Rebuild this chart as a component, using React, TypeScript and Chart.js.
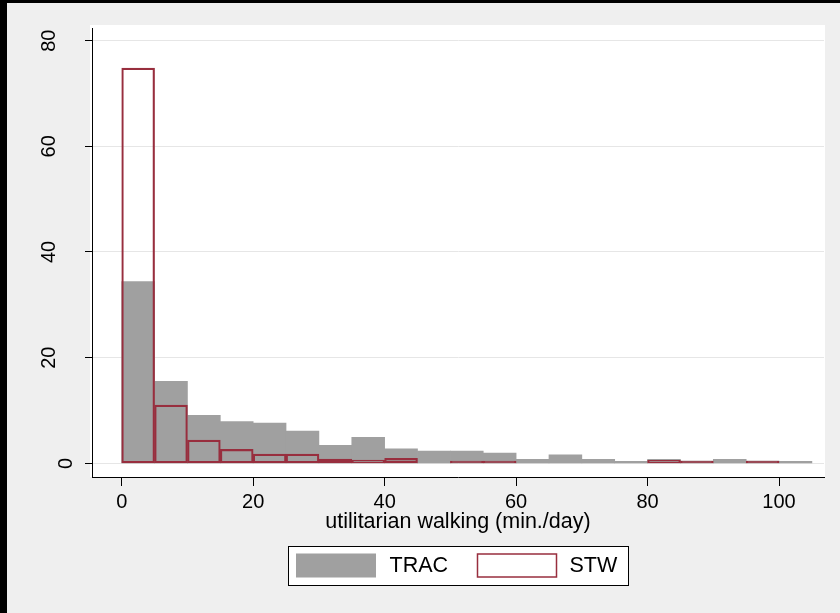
import React, { useEffect, useRef } from "react";
import { Chart, registerables } from "chart.js";

Chart.register(...registerables);

// ---- data ----
const binStarts = [0, 5, 10, 15, 20, 25, 30, 35, 40, 45, 50, 55, 60, 65, 70, 75, 80, 85, 90, 95, 100];
const binWidth = 5;
const tracValues = [34.4, 15.5, 9.1, 7.9, 7.6, 6.1, 3.4, 4.9, 2.75, 2.3, 2.3, 1.95, 0.75, 1.6, 0.75, 0.38, 0.75, 0.4, 0.75, 0.4, 0.38];
const stwValues = [74.8, 11.0, 4.4, 2.65, 1.75, 1.75, 0.8, 0.62, 0.95, 0, 0.4, 0.4, 0, 0, 0, 0, 0.55, 0.4, 0, 0.4, 0];
const seriesLabels = ["TRAC", "STW"];
const xTicks = [0, 20, 40, 60, 80, 100];
const yTicks = [0, 20, 40, 60, 80];
const xTitle = "utilitarian walking (min./day)";

const FONT = '"Liberation Sans", Arial, Helvetica, sans-serif';
const TRAC_COLOR = "#a0a0a0";
const STW_COLOR = "#982e3e";

const decorPlugin = {
  id: "decor",
  beforeDraw(chart: any) {
    const { ctx, chartArea: a } = chart;
    ctx.save();
    ctx.fillStyle = "#ffffff";
    ctx.fillRect(a.left - 2, a.top - 3, a.right - a.left + 3, a.bottom - a.top + 3);
    ctx.restore();
  },
  afterDraw(chart: any) {
    const { ctx, chartArea: a } = chart;
    const ys = chart.scales.y;
    // rotated y tick labels
    ctx.save();
    ctx.font = `20px ${FONT}`;
    ctx.fillStyle = "#000";
    ctx.textAlign = "center";
    ctx.textBaseline = "middle";
    yTicks.forEach((v) => {
      const label = String(v);
      const py = ys.getPixelForValue(v);
      const cx = label.length > 1 ? a.left - 43 : a.left - 26;
      ctx.save();
      ctx.translate(cx, py);
      ctx.rotate(-Math.PI / 2);
      ctx.fillText(label, 0, 0);
      ctx.restore();
    });
    ctx.restore();

    // legend
    const ds = chart.data.datasets;
    const centerX = (a.left + a.right) / 2;
    const fw = 340;
    const fh = 39;
    const fl = Math.round(centerX - fw / 2) + 0.5;
    const ft = chart.height - 67 + 0.5;
    ctx.save();
    ctx.fillStyle = "#ffffff";
    ctx.fillRect(fl, ft, fw, fh);
    ctx.strokeStyle = "#000";
    ctx.lineWidth = 1;
    ctx.strokeRect(fl, ft, fw, fh);
    const boxTop = ft + 7;
    const boxH = 24;
    const items = [
      { boxX: fl + 7.5, textX: fl + 101 },
      { boxX: fl + 188.5, textX: fl + 281 },
    ];
    ctx.font = `21.5px ${FONT}`;
    ctx.textAlign = "left";
    ctx.textBaseline = "middle";
    items.forEach((it, i) => {
      const d = ds[i];
      if (i === 0) {
        ctx.fillStyle = d.backgroundColor;
        ctx.fillRect(it.boxX, boxTop, 80, boxH);
      } else {
        ctx.fillStyle = "#ffffff";
        ctx.fillRect(it.boxX, boxTop, 80, boxH);
        ctx.strokeStyle = d.borderColor;
        ctx.lineWidth = 1.5;
        ctx.strokeRect(it.boxX + 0.5, boxTop + 0.5, 79, boxH - 1);
      }
      ctx.fillStyle = "#000";
      ctx.fillText(d.label, it.textX, boxTop + boxH / 2 + 1);
    });
    ctx.restore();
  },
};

export default function App() {
  const ref = useRef<HTMLCanvasElement>(null);

  useEffect(() => {
    document.body.style.margin = "0";
    const canvas = ref.current;
    if (!canvas) return;
    const toPoints = (vals: number[]) =>
      binStarts
        .map((s, i) => ({ x: s + binWidth / 2, y: vals[i] }))
        .filter((p) => p.y > 0);

    const chart = new Chart(canvas, {
      type: "bar",
      data: {
        datasets: [
          {
            label: seriesLabels[0],
            data: toPoints(tracValues),
            backgroundColor: TRAC_COLOR,
            borderColor: TRAC_COLOR,
            borderWidth: 0,
            barPercentage: 1,
            categoryPercentage: 1,
            grouped: false,
            order: 2,
          } as any,
          {
            label: seriesLabels[1],
            data: toPoints(stwValues),
            backgroundColor: "rgba(0,0,0,0)",
            borderColor: STW_COLOR,
            borderWidth: 1.5,
            borderSkipped: false,
            barPercentage: 1,
            categoryPercentage: 1,
            grouped: false,
            order: 1,
          } as any,
        ],
      },
      options: {
        animation: false,
        responsive: false,
        layout: { padding: { top: 25, right: 16, left: 0, bottom: 0 } },
        plugins: {
          legend: { display: false },
          tooltip: { enabled: false },
        },
        scales: {
          x: {
            type: "linear",
            min: -4.52,
            max: 106.84,
            offset: false,
            afterBuildTicks: (s: any) => {
              s.ticks = xTicks.map((v) => ({ value: v }));
            },
            afterFit: (s: any) => {
              s.height = 136;
            },
            grid: {
              offset: false,
              drawOnChartArea: false,
              color: "#000",
              tickColor: "#000",
              tickLength: 9,
              lineWidth: 1,
            },
            border: { color: "#000", width: 1 },
            ticks: {
              color: "#000",
              font: { family: FONT, size: 20 },
              padding: 4,
              maxRotation: 0,
              autoSkip: false,
            },
            title: {
              display: true,
              text: xTitle,
              color: "#000",
              font: { family: FONT, size: 21.5 },
              padding: { top: 0, bottom: 78 },
            },
          },
          y: {
            type: "linear",
            min: -2.59,
            max: 82.4,
            afterBuildTicks: (s: any) => {
              s.ticks = yTicks.map((v) => ({ value: v }));
            },
            afterFit: (s: any) => {
              s.width = 85;
            },
            grid: {
              color: "#e6e6e6",
              tickColor: "#000",
              tickLength: 7,
              lineWidth: 1,
            },
            border: { color: "#000", width: 1 },
            ticks: { display: false },
          },
        },
      } as any,
      plugins: [decorPlugin],
    });
    return () => chart.destroy();
  }, []);

  return (
    <div style={{ position: "fixed", left: 0, top: 0, width: 840, height: 613, background: "#000" }}>
      <div style={{ position: "absolute", left: 7, top: 3, width: 833, height: 610, background: "#efefef" }}>
        <canvas ref={ref} width={833} height={610} style={{ display: "block", width: 833, height: 610 }} />
      </div>
    </div>
  );
}
